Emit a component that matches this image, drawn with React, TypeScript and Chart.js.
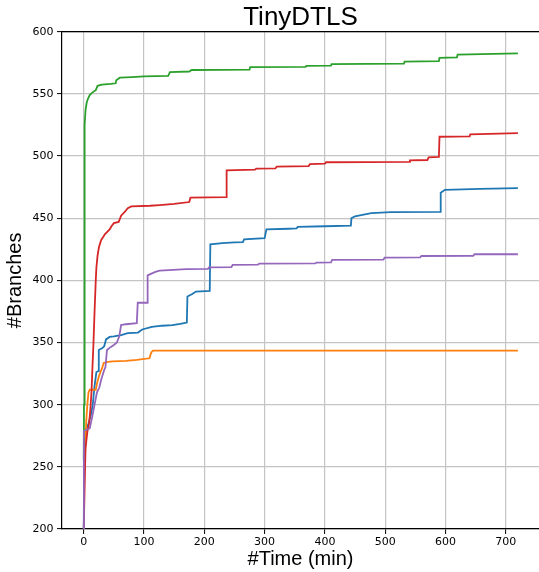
import { useEffect, useRef } from 'react';
import { Chart, registerables } from 'chart.js';

Chart.register(...registerables);

// Tick values
const xTickValues = [0, 100, 200, 300, 400, 500, 600, 700];
const yTickValues = [200, 250, 300, 350, 400, 450, 500, 550, 600];

// Series: [time (min), #branches]
const bluePts: number[][] = [
  [0, 200], [1, 265], [3, 278], [8, 285], [12, 292], [15, 300], [18, 315], [21, 326], [24, 327],
  [25, 344], [31, 345.5], [34, 347], [37, 352.5], [43, 354.5], [50, 355], [62, 356], [73, 357.5],
  [90, 358], [97, 360.5], [113, 362.5], [130, 363.5], [147, 364], [160, 365], [171, 366],
  [172, 387], [180, 389], [186, 391], [209, 391.5], [210, 429], [230, 430], [250, 430.5],
  [264, 430.8], [266, 433], [300, 434], [303, 441], [340, 441.5], [353, 441.8], [355, 443],
  [400, 443.5], [443, 444], [444, 450], [450, 451.5], [460, 452.5], [477, 454], [509, 454.8],
  [591, 455], [592, 470.5], [599, 472.8], [657, 473.6], [720, 474.2],
];
const orangePts: number[][] = [
  [1, 248], [3, 268], [4, 285], [6, 300], [8, 310], [10, 312], [20, 312], [22, 317], [25, 322.5],
  [28, 326.5], [31, 330], [33, 333.5], [40, 334.5], [48, 334.8], [70, 335.2], [88, 336],
  [109, 337.3], [112, 342], [115, 343.5], [720, 343.5],
];
const greenPts: number[][] = [
  [0, 255], [0.5, 300], [1, 420], [1.5, 500], [2, 525], [3, 537], [5, 543], [7, 546], [10, 549],
  [14, 551], [20, 553], [23, 556.5], [30, 557.5], [45, 558], [53, 558.5], [54, 561], [60, 563],
  [80, 563.5], [100, 564], [140, 564.5], [143, 567.5], [175, 568], [179, 569.2], [275, 569.5],
  [276, 571.5], [368, 571.7], [369, 572.5], [410, 572.7], [411, 574], [531, 574.3], [532, 576],
  [589, 576.3], [590, 579], [619, 579.3], [620, 581.5], [660, 582], [720, 582.5],
];
const redPts: number[][] = [
  [0, 200], [3, 265], [6, 278], [9, 285], [11, 296], [13, 311], [14.5, 330], [16, 347], [18, 375],
  [20, 400], [21, 410], [23, 420], [25.4, 427], [29, 432.5], [32, 434.7], [35, 437], [43, 441],
  [46, 443.5], [50, 446], [58, 447], [62, 452], [68, 455], [73, 458], [79, 459.5], [110, 460],
  [126, 460.5], [150, 461.5], [175, 463], [177, 466.5], [236, 467], [237, 488.5], [284, 489],
  [286, 489.8], [318, 490], [320, 491.5], [373, 491.8], [375, 493.5], [400, 493.8], [402, 495],
  [540, 495.3], [541, 496.5], [570, 496.8], [572, 499], [589, 499.3], [590, 515.5], [640, 515.8],
  [641, 517.5], [720, 518.5],
];
const purplePts: number[][] = [
  [0, 200], [0.3, 279], [10, 281], [14, 290], [18, 300], [22, 310], [26, 314], [29, 320],
  [31.5, 324], [34, 328], [36, 330], [38.6, 344], [45, 346.5], [50, 348], [55, 350], [59, 355],
  [62, 364], [70, 364.7], [88, 365.5], [89.6, 382], [105, 382], [106, 404], [115, 406],
  [120, 407], [126, 407.8], [170, 409], [206, 409.2], [208, 410.5], [245, 410.7], [247, 412.4],
  [289, 412.6], [291, 413.5], [384, 413.6], [386, 414.3], [410, 414.5], [412, 416.4],
  [497, 416.6], [499, 418.3], [558, 418.5], [560, 419.6], [646, 419.8], [648, 421], [720, 421],
];

const toXY = (pts: number[][]) => pts.map(([x, y]) => ({ x, y }));

const topSpine = {
  id: 'topSpine',
  afterDatasetsDraw(chart: any) {
    const { ctx, chartArea } = chart;
    ctx.save();
    ctx.strokeStyle = '#000';
    ctx.lineWidth = 1.2;
    ctx.beginPath();
    ctx.moveTo(chartArea.left, chartArea.top);
    ctx.lineTo(chartArea.right, chartArea.top);
    ctx.stroke();
    ctx.restore();
  },
};

export default function App() {
  const ref = useRef<HTMLCanvasElement | null>(null);
  useEffect(() => {
    if (!ref.current) return;
    const mk = (pts: number[][], color: string, order: number) => ({
      data: toXY(pts),
      borderColor: color,
      backgroundColor: color,
      borderWidth: 1.8,
      pointRadius: 0,
      tension: 0,
      fill: false,
      order,
    });
    const chart = new Chart(ref.current, {
      type: 'line',
      data: {
        datasets: [
          mk(bluePts, '#1f77b4', 5),
          mk(orangePts, '#ff7f0e', 4),
          mk(greenPts, '#2ca02c', 3),
          mk(redPts, '#d62728', 2),
          mk(purplePts, '#9467bd', 1),
        ],
      },
      options: {
        animation: false,
        responsive: false,
        layout: { padding: 0 },
        plugins: {
          legend: { display: false },
          tooltip: { enabled: false },
          title: {
            display: true,
            fullSize: false,
            text: 'TinyDTLS',
            color: '#000',
            font: { family: 'Liberation Sans', size: 26, weight: 'normal', lineHeight: 1.0 },
            padding: { top: 5, bottom: 0.7 },
          },
        },
        scales: {
          x: {
            type: 'linear',
            min: -36,
            max: 755,
            afterBuildTicks: (axis: any) => {
              axis.ticks = xTickValues.map((v) => ({ value: v }));
            },
            afterFit: (axis: any) => {
              axis.height = 43;
            },
            grid: { color: '#c4c4c4', lineWidth: 1.2, tickColor: '#000', tickLength: 5, tickWidth: 1 },
            border: { color: '#000', width: 1.2 },
            ticks: {
              color: '#000',
              padding: 2,
              maxRotation: 0,
              font: { family: 'DejaVu Sans', size: 11 },
            },
            title: {
              display: true,
              text: '#Time (min)',
              color: '#000',
              font: { family: 'Liberation Sans', size: 20, lineHeight: 1.2 },
              padding: { top: 0, bottom: 1 },
            },
          },
          y: {
            type: 'linear',
            min: 200,
            max: 600,
            afterBuildTicks: (axis: any) => {
              axis.ticks = yTickValues.map((v) => ({ value: v }));
            },
            afterFit: (axis: any) => {
              axis.width = 62;
            },
            grid: { color: '#c4c4c4', lineWidth: 1.2, tickColor: '#000', tickLength: 5, tickWidth: 1 },
            border: { color: '#000', width: 1.2 },
            ticks: {
              color: '#000',
              padding: 3.5,
              font: { family: 'DejaVu Sans', size: 11 },
            },
            title: {
              display: true,
              text: '#Branches',
              color: '#000',
              font: { family: 'Liberation Sans', size: 20, lineHeight: 1.2 },
              padding: { top: 3, bottom: 0 },
            },
          },
        },
      },
      plugins: [topSpine],
    });
    return () => chart.destroy();
  }, []);
  return (
    <div style={{ position: 'absolute', left: 0, top: 0, width: 539, height: 572, background: '#fff' }}>
      <canvas ref={ref} width={539} height={572} style={{ display: 'block' }} />
    </div>
  );
}
